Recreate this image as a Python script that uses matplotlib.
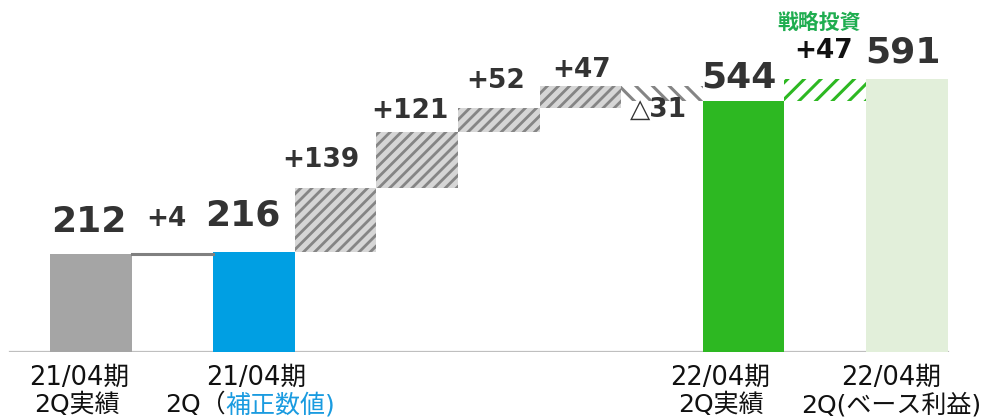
import matplotlib.pyplot as plt
from matplotlib.offsetbox import TextArea, HPacker, AnnotationBbox
import numpy as np

# data (億円)
start_value = 212          # 21/04期 2Q実績
adjust_value = 4           # 補正
base_value = 216           # 21/04期 2Q(補正数値)
step_values = [139, 121, 52, 47, -31]
result_value = 544         # 22/04期 2Q実績
strategic_value = 47       # 戦略投資
final_value = 591          # 22/04期 2Q(ベース利益)

period_top = ['21/04期', '21/04期', '22/04期', '22/04期']
period_bottom = ['2Q実績', '2Q（補正数値)', '2Q実績', '2Q(ベース利益)']

# styles
dark = '#333333'
grey_bar = '#a5a5a5'
blue_bar = '#009fe3'
green_bar = '#2db822'
light_green = '#e2efda'
hatch_face = '#d6d6d6'
hatch_grey = '#858585'
cjk = ['Noto Sans CJK JP', 'DejaVu Sans']
latin_cjk = ['DejaVu Sans', 'Noto Sans CJK JP']

plt.rcParams['font.family'] = ['DejaVu Sans']
plt.rcParams['hatch.linewidth'] = 2.2

fig = plt.figure(figsize=(9.9, 4.2), dpi=100)
ax = fig.add_axes([0, 68 / 420, 1, 352 / 420])
ax.set_xlim(-1.113, 11.02)
ax.set_ylim(0, 352 / 0.462)
ax.axis('off')


def thin_hatch(bars, lw):
    for b in bars:
        if hasattr(b, 'set_hatch_linewidth'):
            b.set_hatch_linewidth(lw)


# baseline
ax.axhline(0, xmin=10 / 990, xmax=948 / 990, color='#bfbfbf', lw=1.6, zorder=1)

# totals
ax.bar(0, start_value, width=1.0, color=grey_bar, lw=0)
ax.bar(2, base_value, width=1.0, color=blue_bar, lw=0)
ax.bar(8, result_value, width=1.0, color=green_bar, lw=0)
ax.bar(10, final_value, width=1.0, color=light_green, lw=0)

# +4 connector
ax.plot([0.5, 1.5], [start_value + 1, start_value + 1], color='#808080', lw=2.2)

# steps
running = base_value
step_x = np.arange(3, 3 + len(step_values))
for x, v in zip(step_x, step_values):
    if v >= 0:
        bars = ax.bar(x, v, bottom=running, width=1.0, color=hatch_face,
                      edgecolor=hatch_grey, hatch='///', lw=0)
        thin_hatch(bars, 2.0)
    else:
        ax.bar(x, -v, bottom=running + v, width=1.0, color='white',
               edgecolor=hatch_grey, hatch='\\\\', lw=0)
    running += v

# strategic investment
ax.bar(9, strategic_value, bottom=result_value, width=1.0, color='white',
       edgecolor=green_bar, hatch='//', lw=0)


def label(x, y, text, dx, dy, size, color=dark, weight='bold', family=None):
    ax.annotate(text, xy=(x, y), xytext=(dx, -dy), textcoords='offset pixels',
                ha='center', va='center', fontsize=size, color=color,
                fontweight=weight, family=family, annotation_clip=False)


# value labels (offsets in pixels, dy positive = downward)
label(0, start_value, str(start_value), -2, -32, 26)
label(1, start_value, f'+{adjust_value}', -6, -35, 19)
label(2, base_value, str(base_value), -11, -37, 26)

step_dx = [-15, -7, -3, 1, -4]
step_dy = [-28, -21, -27, -16, 23]
running = base_value
for x, v, dx, dy in zip(step_x, step_values, step_dx, step_dy):
    if v >= 0:
        running += v
        label(x, running, f'+{v}', dx, dy, 19)
    else:
        label(x, running, f'△{-v}', dx, dy, 19)
        running += v

label(8, result_value, str(result_value), -5, -23, 26)
label(9, result_value + strategic_value, f'+{strategic_value}', -2, -28, 19, color='#111111')
label(9, result_value + strategic_value, '戦略投資', -6, -57, 15, color='#1fad50', family=cjk)
label(10, final_value, str(final_value), -4, -26, 26)

# category labels
cat_x = [0, 2, 8, 10]
cat_dx = [-12, 2, -23, -16]
for i, (x, dx) in enumerate(zip(cat_x, cat_dx)):
    label(x, 0, period_top[i], dx, 26, 18.5, color='#111111', weight='normal', family=latin_cjk)
    if i == 1:
        head, tail = period_bottom[i][:3], period_bottom[i][3:]
        parts = [TextArea(head, textprops=dict(fontsize=18, color='#111111', family=latin_cjk)),
                 TextArea(tail, textprops=dict(fontsize=18, color='#1a9be0', family=latin_cjk))]
        box = HPacker(children=parts, sep=0, pad=0, align='baseline')
        ab = AnnotationBbox(box, (x, 0), xybox=(-4 * 0.72, -53 * 0.72),
                            boxcoords='offset points', frameon=False,
                            box_alignment=(0.5, 0.5), annotation_clip=False)
        ax.add_artist(ab)
    else:
        label(x, 0, period_bottom[i], dx - (2 if i == 0 else 0), 53, 18,
              color='#111111', weight='normal', family=latin_cjk)

fig.savefig('out.png', dpi=100)
